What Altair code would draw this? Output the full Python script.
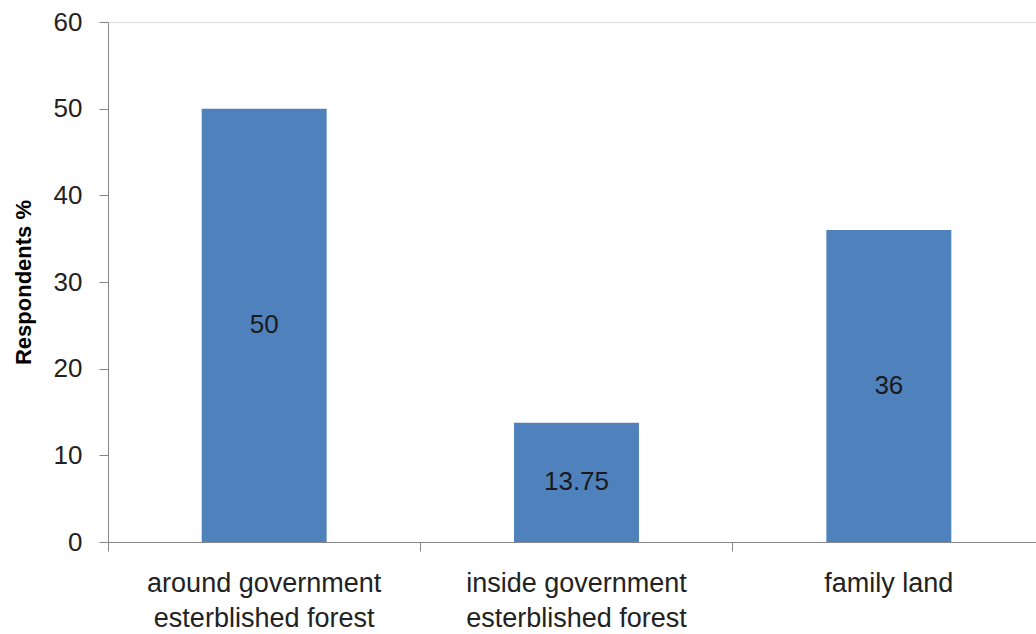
import altair as alt
import pandas as pd

categories = ["around government\nesterblished forest", "inside government\nesterblished forest", "family land"]
values = [50, 13.75, 36]
value_labels = ["50", "13.75", "36"]

df = pd.DataFrame({"cat": categories, "val": values, "lbl": value_labels})

FONT = "Liberation Sans"
x = alt.X("cat:N", sort=categories, title=None,
          scale=alt.Scale(paddingInner=0, paddingOuter=0, range=[0, 937]),
          axis=alt.Axis(bandPosition=0, labelAngle=0,
                        labelExpr="split(datum.value, '\\n')",
                        labelFontSize=27, labelFont=FONT, labelColor="#222222",
                        labelLineHeight=35, labelPadding=19, labelBaseline="top",
                        tickSize=9, tickColor="#868686", domainColor="#868686",
                        labelLimit=400))

y = alt.Y("val:Q", title="Respondents %",
          scale=alt.Scale(domain=[0, 60], nice=False),
          axis=alt.Axis(values=[0, 10, 20, 30, 40, 50, 60], grid=False,
                        labelFontSize=26, labelFont=FONT, labelColor="#222222",
                        labelPadding=17, tickSize=9, tickColor="#868686",
                        domainColor="#868686",
                        titleFont=FONT, titleFontSize=22, titleFontWeight="bold",
                        titleColor="#000000", titlePadding=18))

bars = alt.Chart(df).mark_bar(color="#4F81BD", width=alt.RelativeBandSize(0.4)).encode(x=x, y=y)

text = alt.Chart(df).transform_calculate(mid="datum.val / 2").mark_text(
    font=FONT, fontSize=26, color="#1a1a1a", baseline="middle"
).encode(x=alt.X("cat:N", sort=categories), y=alt.Y("mid:Q"), text="lbl:N")

chart = alt.layer(bars, text).properties(
    width=928, height=520,
    autosize=alt.AutoSizeParams(type="none"),
    padding={"left": 108, "top": 22, "right": 0, "bottom": 92},
).configure_view(stroke=None).configure(background="white")

chart.save("out.html", embed_options={"renderer": "svg", "actions": False})
